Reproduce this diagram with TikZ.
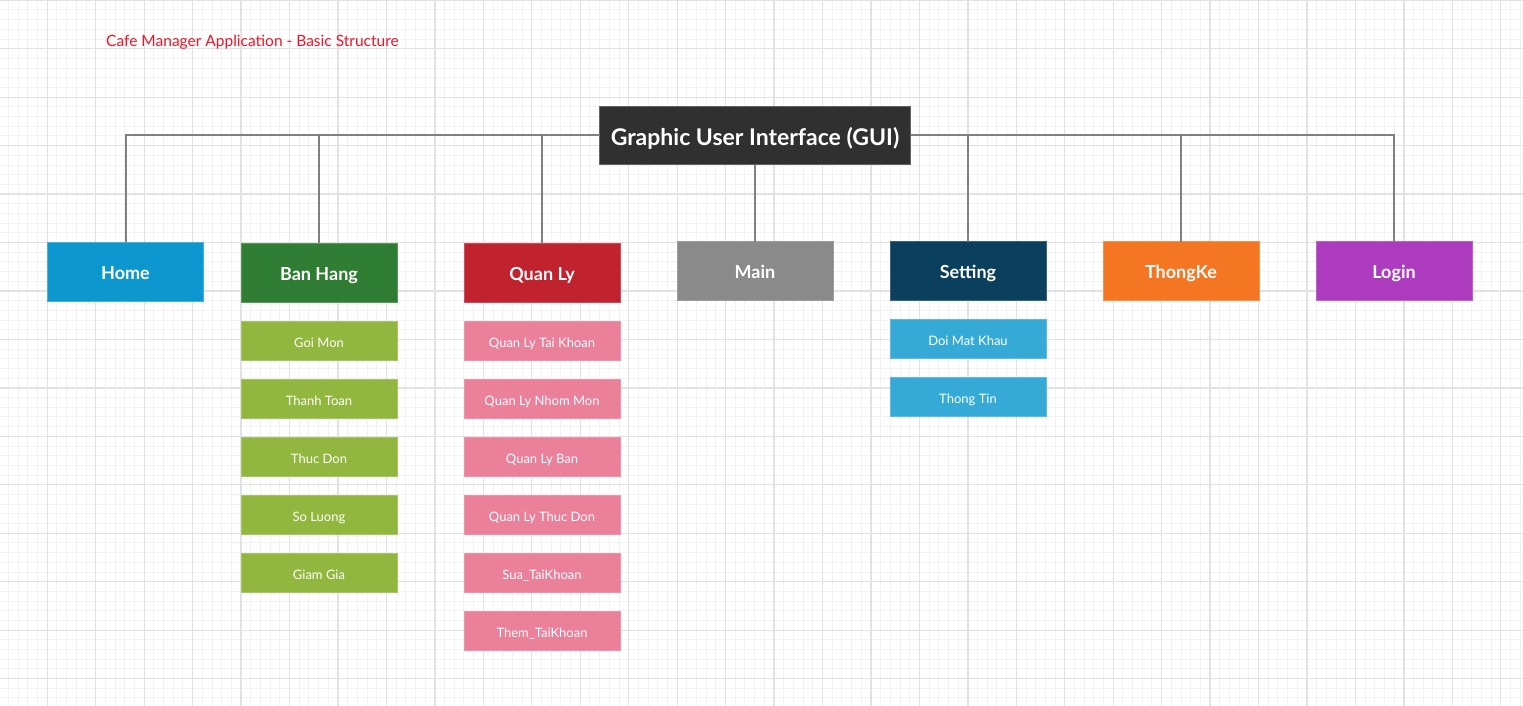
\documentclass[tikz,border=0pt]{standalone}
\usepackage{fontspec}
\setmainfont{Lato}
\usetikzlibrary{positioning}
\definecolor{guigray}{HTML}{303030}
\definecolor{homeblue}{HTML}{0C97CF}
\definecolor{bandark}{HTML}{2F7D32}
\definecolor{banlight}{HTML}{92B73E}
\definecolor{qlred}{HTML}{C0222E}
\definecolor{qlpink}{HTML}{EB809B}
\definecolor{maingray}{HTML}{8A8A8A}
\definecolor{setnavy}{HTML}{0A3F5E}
\definecolor{setlight}{HTML}{36AAD7}
\definecolor{tkorange}{HTML}{F47622}
\definecolor{loginpurple}{HTML}{AD3BBE}
\definecolor{titlered}{HTML}{F01428}
\definecolor{linegray}{HTML}{808080}
\definecolor{gridmajor}{HTML}{E2E2E2}
\definecolor{gridminor}{HTML}{F2F2F2}
\tikzstyle{box} = [rectangle, text=white, text centered, inner sep=0pt, outer sep=0pt, line width=1pt]
\tikzstyle{topbox} = [box, minimum width=156pt, minimum height=59pt, text height=15.5pt, text depth=0pt, font=\fontsize{18}{20}\selectfont\bfseries]
\tikzstyle{subbox} = [box, minimum width=156pt, minimum height=39pt, text height=12.5pt, text depth=0pt, font=\fontsize{13}{15}\selectfont]
\tikzstyle{guibox} = [box, minimum width=311pt, minimum height=58pt, text height=20.5pt, text depth=0pt, fill=guigray, draw=guigray!75!white, font=\fontsize{23}{25}\selectfont\bfseries]
\tikzstyle{homebox} = [topbox, fill=homeblue, draw=homeblue!75!white]
\tikzstyle{banbox} = [topbox, fill=bandark, draw=bandark!80!white]
\tikzstyle{qlbox} = [topbox, fill=qlred, draw=qlred!80!white]
\tikzstyle{mainbox} = [topbox, fill=maingray, draw=maingray!85!white]
\tikzstyle{setbox} = [topbox, fill=setnavy, draw=setnavy!80!white]
\tikzstyle{tkbox} = [topbox, fill=tkorange, draw=tkorange!80!white]
\tikzstyle{loginbox} = [topbox, fill=loginpurple, draw=loginpurple!80!white]
\tikzstyle{bansub} = [subbox, fill=banlight, draw=banlight!80!white]
\tikzstyle{qlsub} = [subbox, fill=qlpink, draw=qlpink!85!white]
\tikzstyle{setsub} = [subbox, fill=setlight, draw=setlight!80!white]
\tikzstyle{link} = [draw=linegray, line width=2pt]
\tikzstyle{titletext} = [text=titlered, inner sep=0pt, font=\fontsize{15.5}{17}\selectfont]
\begin{document}
\begin{tikzpicture}
  \useasboundingbox (0,0) rectangle (1523pt,-706pt);
  % Raster
  \begin{scope}
    \clip (0,0) rectangle (1523pt,-706pt);
    \fill [white] (0,0) rectangle (1523pt,-706pt);
    \begin{scope}[x=9.69pt, y=9.69pt, xshift=-1.15pt, yshift=-0.3pt]
      \draw [gridminor, line width=1pt, step=1] (-1,1) grid (160,-75);
      \draw [gridmajor, line width=1.3pt, step=5] (-5,5) grid (160,-75);
    \end{scope}
  \end{scope}
  % Title
  \node (title) [titletext, anchor=west] at (106pt,-42pt) {Cafe Manager Application - Basic Structure};
  % GUI
  \node (gui) [guibox] at (755pt,-135.5pt) {Graphic User Interface (GUI)};
  % Top level
  \node (main) [mainbox, below=77pt of gui] {Main};
  \node (setting) [setbox, right=57pt of main] {Setting};
  \node (thongke) [tkbox, right=57pt of setting] {ThongKe};
  \node (login) [loginbox, right=57pt of thongke] {Login};
  \node (quanly) [qlbox, left=57pt of main, yshift=-2pt] {Quan Ly};
  \node (banhang) [banbox, left=67pt of quanly] {Ban Hang};
  \node (home) [homebox, left=37.5pt of banhang, yshift=1.5pt] {Home};
  % Ban Hang
  \node (goimon) [bansub, below=19pt of banhang] {Goi Mon};
  \node (thanhtoan) [bansub, below=19pt of goimon] {Thanh Toan};
  \node (thucdon) [bansub, below=19pt of thanhtoan] {Thuc Don};
  \node (soluong) [bansub, below=19pt of thucdon] {So Luong};
  \node (giamgia) [bansub, below=19pt of soluong] {Giam Gia};
  % Quan Ly
  \node (qltaikhoan) [qlsub, below=19pt of quanly] {Quan Ly Tai Khoan};
  \node (qlnhommon) [qlsub, below=19pt of qltaikhoan] {Quan Ly Nhom Mon};
  \node (qlban) [qlsub, below=19pt of qlnhommon] {Quan Ly Ban};
  \node (qlthucdon) [qlsub, below=19pt of qlban] {Quan Ly Thuc Don};
  \node (suatk) [qlsub, below=19pt of qlthucdon] {Sua\_TaiKhoan};
  \node (themtk) [qlsub, below=19pt of suatk] {Them\_TaiKhoan};
  % Setting
  \node (doimatkhau) [setsub, below=19pt of setting] {Doi Mat Khau};
  \node (thongtin) [setsub, below=19pt of doimatkhau] {Thong Tin};
  % Links
  \draw [link] (gui.west) -| (home.north);
  \draw [link] (gui.west) -| (banhang.north);
  \draw [link] (gui.west) -| (quanly.north);
  \draw [link] (gui.south) -- (main.north);
  \draw [link] (gui.east) -| (setting.north);
  \draw [link] (gui.east) -| (thongke.north);
  \draw [link] (gui.east) -| (login.north);
\end{tikzpicture}
\end{document}
